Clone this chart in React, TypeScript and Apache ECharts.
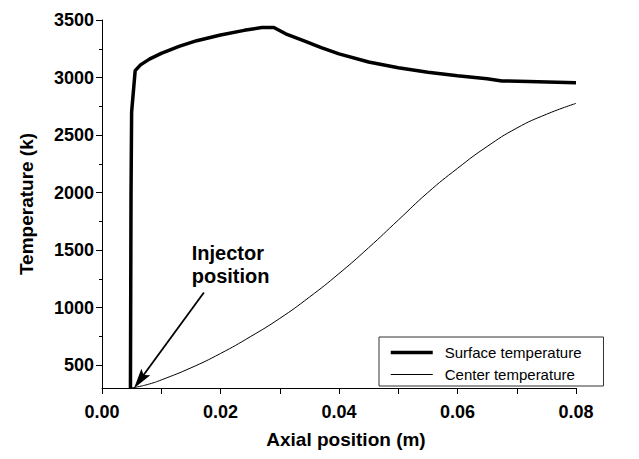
import React, { useEffect, useRef } from "react";
import * as echarts from "echarts";

const surfaceX = [0.0048, 0.0049, 0.005, 0.0056, 0.0065, 0.008, 0.01, 0.013, 0.016, 0.02, 0.024, 0.027, 0.029, 0.031, 0.034, 0.037, 0.04, 0.045, 0.05, 0.055, 0.06, 0.065, 0.0675, 0.072, 0.08];
const surfaceY = [300, 2000, 2700, 3060, 3110, 3160, 3210, 3270, 3320, 3370, 3410, 3435, 3435, 3380, 3320, 3260, 3205, 3135, 3085, 3045, 3015, 2990, 2970, 2965, 2955];

const centerX = [0.0048, 0.006, 0.008, 0.01, 0.015, 0.02, 0.025, 0.03, 0.035, 0.04, 0.045, 0.05, 0.055, 0.06, 0.065, 0.07, 0.075, 0.08];
const centerY = [300, 310, 335, 370, 475, 600, 745, 905, 1090, 1295, 1520, 1760, 2000, 2210, 2400, 2560, 2680, 2775];

const seriesNames = ["Surface temperature", "Center temperature"];
const legendLineWidths = [3.5, 1];
const yLabelValues = [500, 1000, 1500, 2000, 2500, 3000, 3500];
const yMinorValues = [750, 1250, 1750, 2250, 2750, 3250];
const annotationText = "Injector\nposition";
const arrowFrom = [0.0172, 1130];
const arrowTo = [0.0064, 369];
const annotationAt = [0.0143, 1570];

const FONT = "'Liberation Sans', Arial, Helvetica, sans-serif";

export default function App() {
  const ref = useRef<HTMLDivElement>(null);
  useEffect(() => {
    const chart = echarts.init(ref.current!, null, { renderer: "svg" });
    const surface = surfaceX.map((x, i) => [x, surfaceY[i]]);
    const center = centerX.map((x, i) => [x, centerY[i]]);
    chart.setOption({
      animation: false,
      backgroundColor: "#fff",
      grid: { left: 102, right: 63, top: 20, bottom: 71, containLabel: false },
      legend: {
        orient: "vertical",
        left: 379,
        top: 337,
        data: seriesNames.map((n, i) => ({ name: n, lineStyle: { width: legendLineWidths[i], color: "#000" } })),
        itemWidth: 42,
        itemHeight: 14,
        itemGap: 7,
        padding: [8, 22, 4, 10],
        borderColor: "#333",
        borderWidth: 1,
        borderRadius: 0,
        itemStyle: { color: "rgba(0,0,0,0)", borderWidth: 0, opacity: 0 },
        textStyle: { fontFamily: FONT, fontSize: 15, color: "#000", padding: [0, 0, 0, 7] },
      },
      xAxis: {
        type: "value",
        min: 0,
        max: 0.08,
        interval: 0.01,
        name: "Axial position (m)",
        nameLocation: "middle",
        nameGap: 42,
        nameTextStyle: { fontFamily: FONT, fontWeight: "bold", fontSize: 19, color: "#000", padding: [0, 0, 0, 14] },
        splitLine: { show: false },
        axisLine: { lineStyle: { color: "#000", width: 1 } },
        axisTick: { show: true, inside: false, length: 6, lineStyle: { color: "#000" } },
        axisLabel: {
          fontFamily: FONT,
          fontWeight: "bold",
          fontSize: 18,
          color: "#000",
          margin: 15,
          formatter: (v: number) => (Math.round(v * 100) % 2 === 0 ? v.toFixed(2) : ""),
        },
      },
      yAxis: [
        {
          type: "value",
          min: 300,
          max: 3500,
          name: "Temperature (k)",
          nameLocation: "middle",
          nameGap: 66,
          nameRotate: 90,
          nameTextStyle: { fontFamily: FONT, fontWeight: "bold", fontSize: 19, color: "#000" },
          splitLine: { show: false },
          axisLine: { show: true, lineStyle: { color: "#000", width: 1 } },
          axisTick: { show: true, length: 6, customValues: yLabelValues, lineStyle: { color: "#000" } },
          axisLabel: {
            customValues: yLabelValues,
            fontFamily: FONT,
            fontWeight: "bold",
            fontSize: 18,
            color: "#000",
            margin: 8,
            formatter: (v: number) => String(v),
          },
        },
        {
          type: "value",
          min: 300,
          max: 3500,
          position: "left",
          splitLine: { show: false },
          axisLine: { show: false },
          axisTick: { show: true, length: 3, customValues: yMinorValues, lineStyle: { color: "#000" } },
          axisLabel: { show: false },
        },
      ],
      series: [
        {
          name: seriesNames[0],
          type: "line",
          data: surface,
          symbol: "none",
          smooth: false,
          lineStyle: { color: "#000", width: 3.5 },
          itemStyle: { color: "#000" },
          z: 3,
        },
        {
          name: seriesNames[1],
          type: "line",
          data: center,
          symbol: "none",
          smooth: true,
          lineStyle: { color: "#000", width: 1 },
          itemStyle: { color: "#000" },
          z: 4,
          markLine: {
            silent: true,
            symbol: ["none", "arrow"],
            lineStyle: { color: "#000", width: 1.8, type: "solid" },
            itemStyle: { color: "#000" },
            label: { show: false },
            data: [
              [
                { coord: arrowFrom, symbol: "none" },
                {
                  coord: arrowTo,
                  symbol: "path://M0,0 L4,16 L0,13 L-4,16 Z",
                  symbolSize: [11, 20],
                },
              ],
            ],
          },
          markPoint: {
            silent: true,
            data: [
              {
                coord: annotationAt,
                symbol: "circle",
                symbolSize: 0,
                label: {
                  show: true,
                  formatter: annotationText,
                  position: "insideLeft",
                  align: "left",
                  verticalAlign: "top",
                  offset: [0, 0],
                  fontFamily: FONT,
                  fontWeight: "bold",
                  fontSize: 20,
                  lineHeight: 23,
                  color: "#000",
                },
              },
            ],
          },
        },
      ],
    });
    return () => chart.dispose();
  }, []);
  return <div ref={ref} style={{ width: 639, height: 459, position: "absolute", left: 0, top: 0 }} />;
}
